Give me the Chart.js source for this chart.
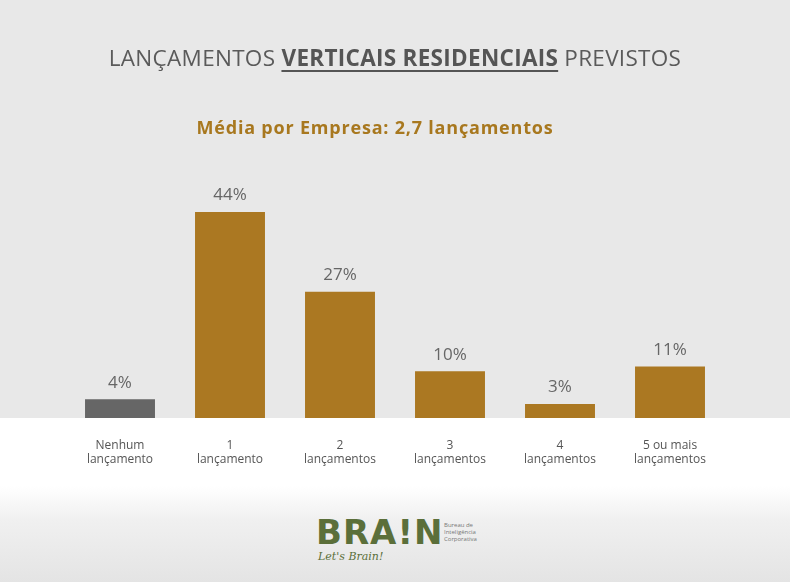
<!DOCTYPE html>
<html>
<head>
<meta charset="utf-8">
<script src="https://cdn.jsdelivr.net/npm/chart.js@4"></script>
<style>
  body { margin: 0; width: 790px; height: 582px; overflow: hidden; font-family: "Open Sans", sans-serif;
    background: linear-gradient(#e8e8e8 0, #e8e8e8 418px, #fff 418px, #fff 486px, #f0f0f0 520px, #e4e4e4 582px); position: relative; }
  #title { position: absolute; top: 42px; left: 0; width: 790px; text-align: center; font-size: 22.5px; color: #5a5a5a; letter-spacing: 0.3px; z-index: 2; }
  #title b { text-decoration: underline; text-underline-offset: 4px; text-decoration-thickness: 2px; color: #555; }
  #sub { position: absolute; top: 115px; left: 0; width: 750px; text-align: center; font-size: 18px; font-weight: bold; color: #a8781f; letter-spacing: 0.8px; z-index: 2; }
  #wrap { position: absolute; left: 0; top: 0; width: 790px; height: 470px; }
  #logo { position: absolute; left: 316px; top: 512px; }
  #logo .b { font: bold 34px "DejaVu Sans", sans-serif; color: #5b6f3a; letter-spacing: 1px; }
  #logo .s { font: italic 11px "DejaVu Serif", serif; color: #5b6f3a; position: absolute; left: 2px; top: 38px; }
  #logo .t { font-size: 6px; color: #777; position: absolute; left: 128px; top: 10px; line-height: 7px; white-space: nowrap; }
</style>
</head>
<body>
<div id="title">LANÇAMENTOS <b>VERTICAIS RESIDENCIAIS</b> PREVISTOS</div>
<div id="sub">Média por Empresa: 2,7 lançamentos</div>
<div id="wrap"><canvas id="chart"></canvas></div>
<div id="logo"><span class="b">BRA!N</span><span class="s">Let's Brain!</span><span class="t">Bureau de<br>Inteligência<br>Corporativa</span></div>
<script>
const categories = [['Nenhum', 'lançamento'], ['1', 'lançamento'], ['2', 'lançamentos'], ['3', 'lançamentos'], ['4', 'lançamentos'], ['5 ou mais', 'lançamentos']];
const values = [4, 44, 27, 10, 3, 11];
const barColors = ['#666666', '#ab7822', '#ab7822', '#ab7822', '#ab7822', '#ab7822'];

const valueLabels = {
  id: 'valueLabels',
  afterDatasetsDraw(chart) {
    const ctx = chart.ctx;
    ctx.save();
    ctx.fillStyle = '#666';
    ctx.font = '17px "Open Sans", sans-serif';
    ctx.textAlign = 'center';
    ctx.textBaseline = 'bottom';
    chart.getDatasetMeta(0).data.forEach((bar, i) => {
      ctx.fillText(values[i] + '%', bar.x, bar.y - 8);
    });
    ctx.restore();
  }
};

new Chart(document.getElementById('chart'), {
  type: 'bar',
  data: {
    labels: categories,
    datasets: [{ data: values, backgroundColor: barColors, categoryPercentage: 1, barPercentage: 0.636 }]
  },
  options: {
    responsive: true,
    maintainAspectRatio: false,
    animation: false,
    layout: { padding: { left: 65, right: 65, top: 184, bottom: 0 } },
    plugins: { legend: { display: false }, tooltip: { enabled: false } },
    scales: {
      x: {
        grid: { display: false },
        border: { display: false },
        ticks: { color: '#555', font: { size: 12, family: '"Open Sans", sans-serif' }, padding: 12, maxRotation: 0 },
        afterFit(scale) { scale.height = 52; }
      },
      y: {
        display: false,
        min: 0,
        max: 50,
        afterFit(scale) { scale.width = 0; }
      }
    }
  },
  plugins: [valueLabels]
});
</script>
</body>
</html>
